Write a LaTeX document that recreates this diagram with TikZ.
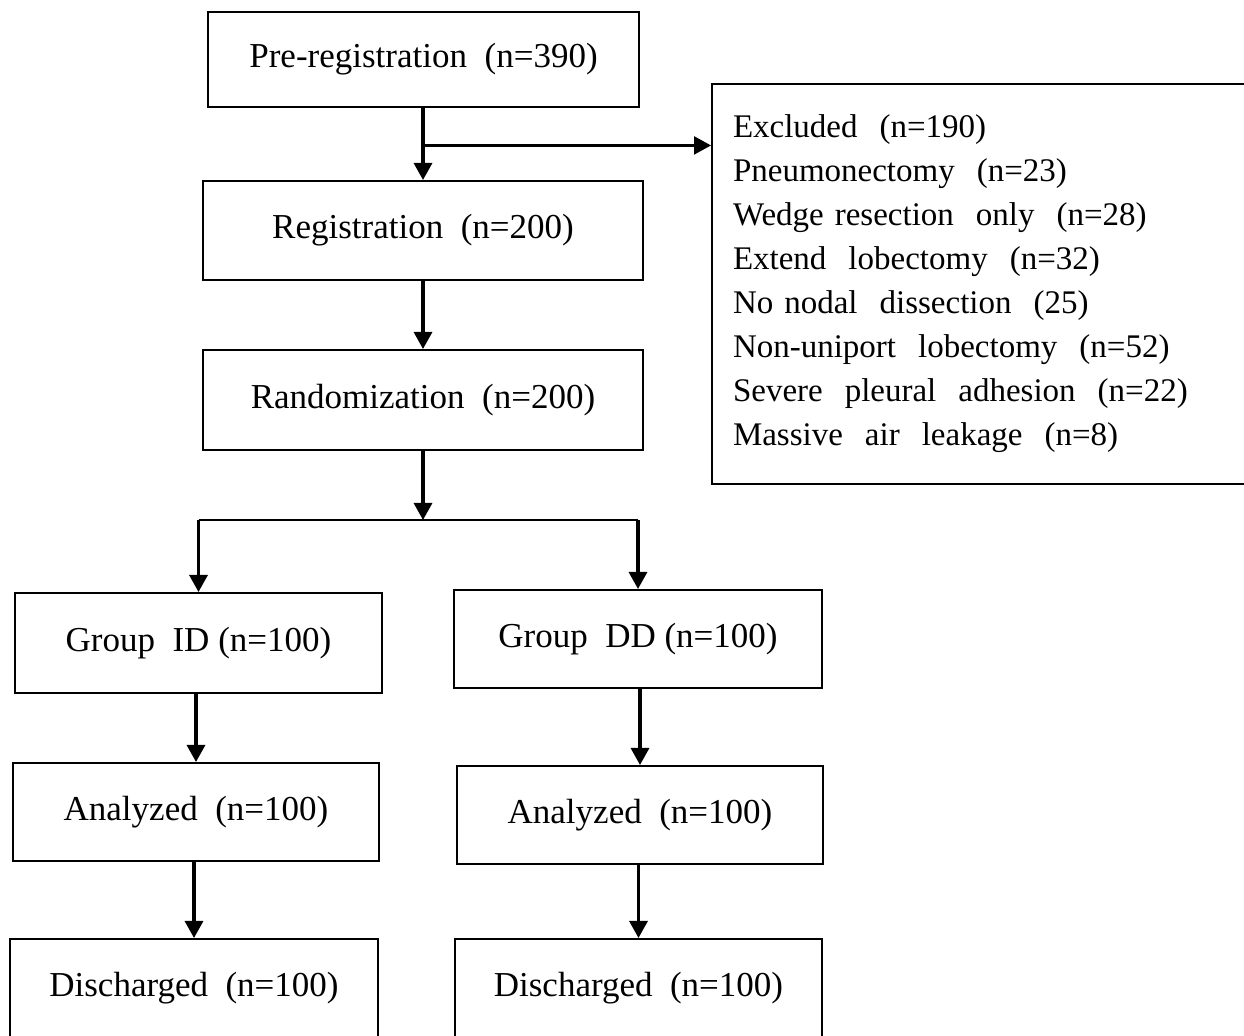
\documentclass[tikz,border=0pt]{standalone}
\usepackage{fontspec}
\setmainfont{Liberation Serif}
\usetikzlibrary{arrows.meta,calc}

\tikzset{
  box/.style={draw, line width=1pt, inner sep=0pt, font=\fontsize{17.5}{22}\selectfont},
  arr/.style={-{Triangle[width=9pt,length=8.5pt]}, line width=1.6pt},
  link/.style={line width=1pt},
}

\begin{document}
\begin{tikzpicture}[x=0.5pt, y=-0.5pt]
  \useasboundingbox (0,0) rectangle (1244,1036);

  % --- main column ---
  \node[box, minimum width=215.5pt, minimum height=47.5pt] (pre) at (423.5,59.5) {Pre-registration~~(n=390)};
  \node[box, minimum width=220pt, minimum height=49.5pt] (reg) at (423,230.5) {Registration~~(n=200)};
  \node[box, minimum width=220pt, minimum height=50pt] (rand) at (423,400) {Randomization~~(n=200)};

  % --- excluded list ---
  \node[box, anchor=north west, text width=249pt, minimum height=200pt, inner xsep=10.5pt, align=left,
        font=\fontsize{16.5}{22}\selectfont] (excl) at (711,83)
    {Excluded~~(n=190)\\
     Pneumonectomy~~(n=23)\\
     Wedge resection~~only~~(n=28)\\
     Extend~~lobectomy~~(n=32)\\
     No nodal~~dissection~~(25)\\
     Non-uniport~~lobectomy~~(n=52)\\
     Severe~~pleural~~adhesion~~(n=22)\\
     Massive~~air~~leakage~~(n=8)};

  % --- two arms ---
  \node[box, minimum width=183.5pt, minimum height=50pt] (gid) at (198.5,643) {Group~~ID (n=100)};
  \node[box, minimum width=184pt, minimum height=49pt] (gdd) at (638,639) {Group~~DD (n=100)};
  \node[box, minimum width=183pt, minimum height=49pt] (anl) at (196,812) {Analyzed~~(n=100)};
  \node[box, minimum width=183pt, minimum height=49pt] (anr) at (640,815) {Analyzed~~(n=100)};
  \node[box, minimum width=184pt, minimum height=49pt] (disl) at (194,988) {Discharged~~(n=100)};
  \node[box, minimum width=183.5pt, minimum height=49pt] (disr) at (638.5,988) {Discharged~~(n=100)};

  % --- arrows ---
  \draw[arr] (pre.south -| reg) -- (reg);
  \coordinate (br) at ($(pre.south)!0.52!(reg.north)$);
  \draw[arr, line width=1.2pt] (br) -- (br -| excl.west);
  \draw[arr] (reg) -- (rand);

  \coordinate (lvl) at (0,520);
  \coordinate (split) at (rand.south |- lvl);
  \draw[arr] (rand) -- (split);
  \draw[link] (gid.north |- lvl) -- (gdd.north |- lvl);
  \draw[arr] (gid.north |- lvl) -- (gid);
  \draw[arr] (gdd.north |- lvl) -- (gdd);

  \draw[arr] (gid.south -| anl) -- (anl);
  \draw[arr] (anl.south -| disl) -- (disl);
  \draw[arr] (gdd.south -| anr) -- (anr);
  \draw[arr] (anr.south -| disr) -- (disr);
\end{tikzpicture}
\end{document}
